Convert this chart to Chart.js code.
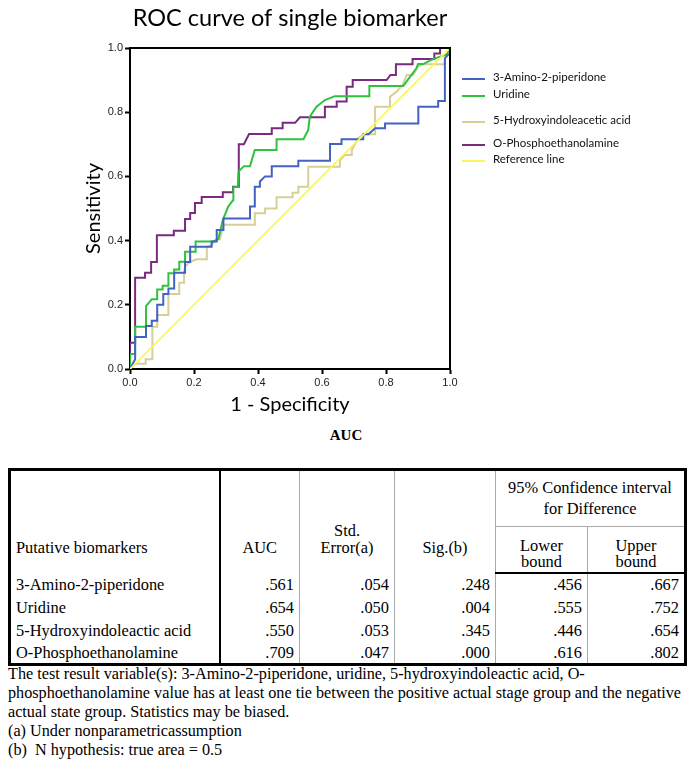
<!DOCTYPE html>
<html>
<head>
<meta charset="utf-8">
<script src="https://cdn.jsdelivr.net/npm/chart.js@4/dist/chart.umd.min.js"></script>
<style>
  html, body { margin:0; padding:0; background:#fff; }
  body { width:692px; height:769px; position:relative; overflow:hidden; }
  #wrap { position:absolute; left:0; top:0; width:692px; height:420px; }
  #aucTitle { position:absolute; top:427px; left:0; width:692px; text-align:center;
    font-family: 'Liberation Serif', 'Times New Roman', serif; font-weight:bold; font-size:15px; color:#000; }
  table { position:absolute; left:8px; top:468px; width:676px; border-collapse:collapse;
    font-family: 'Liberation Serif', 'Times New Roman', serif; font-size:16.4px; color:#000; border:3px solid #000; table-layout:fixed; }
  td, th { font-family: 'Liberation Serif', 'Times New Roman', serif; font-size:16.4px; font-weight:normal; padding:0 5px; line-height:17px; }
  .hdr td { vertical-align:bottom; }
  .c1 { text-align:left; border-right:2px solid #000; }
  .g { border-left:1px solid #aaa; }
  .num { text-align:right; }
  .ctr { text-align:center; }
  tr.hb td { border-bottom:2px solid #000; }
  #notes { position:absolute; left:8px; top:665px; width:684px;
    font-family: 'Liberation Serif', 'Times New Roman', serif; font-size:16.2px; line-height:19px; color:#000; white-space:nowrap; }
</style>
</head>
<body>
<div id="wrap"><canvas id="c" width="692" height="420"></canvas></div>

<div id="aucTitle">AUC</div>
<table>
  <colgroup>
    <col style="width:210px"><col style="width:80px"><col style="width:95px">
    <col style="width:101px"><col style="width:92px"><col style="width:98px">
  </colgroup>
  <tr class="hdr" style="height:57px">
    <td class="c1" rowspan="2" style="padding-bottom:17px">Putative biomarkers</td>
    <td class="ctr" rowspan="2" style="padding-bottom:17px">AUC</td>
    <td class="ctr g" rowspan="2" style="padding-bottom:17px">Std.<br>Error(a)</td>
    <td class="ctr g" rowspan="2" style="padding-bottom:17px">Sig.(b)</td>
    <td class="ctr g" colspan="2" style="border-bottom:1px solid #aaa; padding-bottom:7px; line-height:21px">95% Confidence interval<br>for Difference</td>
  </tr>
  <tr class="hdr hb" style="height:46px">
    <td class="ctr g" style="padding-bottom:2px; line-height:16px">Lower<br>bound</td>
    <td class="ctr g" style="padding-bottom:2px; line-height:16px">Upper<br>bound</td>
  </tr>
  <tbody id="tb"></tbody>
</table>

<div id="notes">The test result variable(s): 3-Amino-2-piperidone, uridine, 5-hydroxyindoleactic acid, O-<br>phosphoethanolamine value has at least one tie between the positive actual stage group and the negative<br>actual state group. Statistics may be biased.<br>(a) Under nonparametricassumption<br>(b)&nbsp; N hypothesis: true area = 0.5</div>

<script>
// ---------------- DATA ----------------
const seriesNames = ['3-Amino-2-piperidone', 'Uridine', '5-Hydroxyindoleacetic acid', 'O-Phosphoethanolamine', 'Reference line'];

const aminoFpr = [0,0.016,0.016,0.05,0.05,0.068,0.068,0.085,0.085,0.104,0.104,0.12,0.12,0.138,0.138,0.172,0.172,0.188,0.188,0.255,0.255,0.271,0.271,0.292,0.292,0.375,0.375,0.39,0.39,0.406,0.406,0.422,0.443,0.443,0.526,0.526,0.625,0.625,0.661,0.661,0.729,0.729,0.745,0.766,0.797,0.797,0.901,0.901,0.963,0.963,0.984,0.984,0.995,1,1];
const aminoTpr = [0,0.03,0.1,0.1,0.134,0.134,0.15,0.15,0.2,0.2,0.234,0.234,0.251,0.251,0.3,0.3,0.333,0.333,0.381,0.381,0.397,0.397,0.433,0.433,0.469,0.469,0.506,0.506,0.568,0.568,0.584,0.6,0.6,0.632,0.632,0.649,0.649,0.701,0.701,0.716,0.716,0.731,0.731,0.75,0.75,0.765,0.765,0.817,0.817,0.835,0.835,0.968,0.98,0.98,1];

const uridineFpr = [0,0,0.016,0.016,0.05,0.05,0.068,0.085,0.085,0.102,0.102,0.12,0.12,0.138,0.138,0.154,0.154,0.172,0.172,0.205,0.205,0.257,0.276,0.29,0.307,0.322,0.323,0.337,0.339,0.356,0.375,0.39,0.458,0.458,0.542,0.557,0.562,0.583,0.609,0.64,0.748,0.748,0.854,0.895,0.9,0.917,0.935,0.96,0.99,1];
const uridineTpr = [0,0.047,0.047,0.132,0.132,0.196,0.217,0.217,0.248,0.248,0.259,0.259,0.298,0.298,0.31,0.31,0.334,0.334,0.365,0.365,0.397,0.397,0.404,0.464,0.506,0.526,0.566,0.568,0.615,0.632,0.632,0.682,0.682,0.716,0.716,0.745,0.786,0.817,0.838,0.85,0.85,0.882,0.882,0.937,0.95,0.95,0.96,0.97,0.98,1];

const hiaaFpr = [0,0.016,0.049,0.049,0.07,0.07,0.085,0.085,0.12,0.12,0.154,0.154,0.169,0.169,0.172,0.188,0.208,0.24,0.24,0.255,0.27,0.281,0.292,0.39,0.39,0.422,0.422,0.458,0.458,0.508,0.508,0.526,0.526,0.557,0.557,0.656,0.656,0.672,0.693,0.693,0.713,0.73,0.766,0.766,0.8125,0.8125,0.833,0.852,0.865,0.885,0.9,0.917,0.984,0.984,1];
const hiaaTpr = [0,0.016,0.016,0.03,0.03,0.132,0.132,0.168,0.168,0.234,0.234,0.269,0.269,0.303,0.319,0.334,0.342,0.342,0.381,0.386,0.404,0.404,0.449,0.449,0.485,0.485,0.5,0.5,0.535,0.535,0.549,0.549,0.568,0.568,0.63,0.63,0.651,0.667,0.667,0.682,0.719,0.731,0.731,0.817,0.817,0.848,0.864,0.885,0.916,0.916,0.942,0.949,0.949,0.968,1];

const opeaFpr = [0,0,0.016,0.016,0.047,0.047,0.066,0.066,0.084,0.084,0.137,0.137,0.172,0.172,0.188,0.188,0.203,0.203,0.224,0.224,0.29,0.29,0.322,0.322,0.34,0.34,0.356,0.372,0.443,0.443,0.477,0.477,0.516,0.531,0.609,0.609,0.646,0.646,0.677,0.677,0.696,0.696,0.802,0.814,0.831,0.831,0.883,0.883,0.951,0.951,0.969,0.969,1];
const opeaTpr = [0,0.082,0.082,0.284,0.284,0.30,0.30,0.333,0.333,0.417,0.417,0.431,0.431,0.467,0.467,0.486,0.486,0.517,0.517,0.536,0.536,0.551,0.551,0.568,0.568,0.70,0.70,0.732,0.732,0.75,0.75,0.767,0.767,0.784,0.784,0.817,0.817,0.833,0.833,0.879,0.879,0.90,0.90,0.916,0.916,0.949,0.949,0.966,0.966,0.983,0.983,1.0,1];

const refFpr = [0, 1];
const refTpr = [0, 1];

const axisTicks = [0, 0.2, 0.4, 0.6, 0.8, 1.0];

// AUC table
const tableNames = ['3-Amino-2-piperidone', 'Uridine', '5-Hydroxyindoleactic acid', 'O-Phosphoethanolamine'];
const aucVals   = ['.561', '.654', '.550', '.709'];
const seVals    = ['.054', '.050', '.053', '.047'];
const sigVals   = ['.248', '.004', '.345', '.000'];
const lowerVals = ['.456', '.555', '.446', '.616'];
const upperVals = ['.667', '.752', '.654', '.802'];

// ---------------- TABLE ----------------
const tb = document.getElementById('tb');
tableNames.forEach((n, i) => {
  const tr = document.createElement('tr');
  tr.style.height = '23px';
  tr.innerHTML = `<td class="c1">${n}</td>` +
    `<td class="num">${aucVals[i]}</td><td class="num g">${seVals[i]}</td>` +
    `<td class="num g">${sigVals[i]}</td><td class="num g">${lowerVals[i]}</td><td class="num g">${upperVals[i]}</td>`;
  tb.appendChild(tr);
});

// ---------------- CHART ----------------
const colors = ['#4262c4', '#2fc23f', '#d6cf96', '#7a2a80', '#f8f65a'];
const toPts = (xs, ys) => xs.map((x, i) => ({ x: x, y: ys[i] }));
const seriesX = [aminoFpr, uridineFpr, hiaaFpr, opeaFpr, refFpr];
const seriesY = [aminoTpr, uridineTpr, hiaaTpr, opeaTpr, refTpr];

const datasets = seriesNames.map((name, i) => ({
  label: name,
  data: toPts(seriesX[i], seriesY[i]),
  borderColor: colors[i],
  backgroundColor: colors[i],
  borderWidth: i === 4 ? 1.6 : 2,
  pointRadius: 0,
  tension: 0,
  fill: false,
  order: i === 4 ? -1 : i
}));

const legendYs = [77, 94, 120, 143, 159];

const framePlugin = {
  id: 'frame',
  afterDatasetsDraw(chart) {
    const { ctx, chartArea: a } = chart;
    ctx.save();
    ctx.strokeStyle = '#000';
    ctx.lineWidth = 2;
    ctx.beginPath();
    ctx.moveTo(a.left, a.top);
    ctx.lineTo(a.right, a.top);
    ctx.lineTo(a.right, a.bottom);
    ctx.stroke();
    ctx.restore();
  },
  afterDraw(chart) {
    const { ctx } = chart;
    ctx.save();
    ctx.font = "11.5px Lato, 'Open Sans', sans-serif";
    ctx.textBaseline = 'middle';
    ctx.fillStyle = '#111';
    chart.data.datasets.forEach((ds, i) => {
      const y = legendYs[i];
      ctx.strokeStyle = ds.borderColor;
      ctx.lineWidth = 2;
      ctx.beginPath();
      ctx.moveTo(462, y + 2);
      ctx.lineTo(485, y + 2);
      ctx.stroke();
      ctx.fillText(ds.label, 493, y);
    });
    ctx.restore();
  }
};

new Chart(document.getElementById('c'), {
  type: 'line',
  data: { datasets },
  options: {
    responsive: false,
    animation: false,
    devicePixelRatio: 1,
    layout: { padding: { left: 0, top: 0, right: 242, bottom: 0 } },
    plugins: {
      legend: { display: false },
      tooltip: { enabled: false },
      title: {
        display: true,
        text: 'ROC curve of single biomarker',
        fullSize: false,
        color: '#000',
        font: { family: "Lato, 'Open Sans', sans-serif", size: 23.5, weight: 'normal' },
        padding: { top: 4, bottom: 15.8 }
      }
    },
    scales: {
      x: {
        type: 'linear',
        min: 0, max: 1,
        afterFit(s) { s.height = 51; },
        afterBuildTicks(s) { s.ticks = axisTicks.map(v => ({ value: v })); },
        ticks: {
          callback: v => v.toFixed(1),
          color: '#222',
          font: { family: "'Liberation Sans', Arial, sans-serif", size: 11 },
          padding: 2,
          maxRotation: 0
        },
        grid: { drawOnChartArea: false, drawTicks: true, tickLength: 5, color: '#000', tickWidth: 2 },
        border: { display: true, color: '#000', width: 2 },
        title: {
          display: true,
          text: '1 - Specificity',
          color: '#000',
          font: { family: "Lato, 'Open Sans', sans-serif", size: 20 },
          padding: { top: 0, bottom: 3 }
        }
      },
      y: {
        type: 'linear',
        min: 0, max: 1,
        afterFit(s) { s.width = 130; },
        afterBuildTicks(s) { s.ticks = axisTicks.map(v => ({ value: v })); },
        ticks: {
          callback: v => v.toFixed(1),
          color: '#222',
          font: { family: "'Liberation Sans', Arial, sans-serif", size: 11 },
          padding: 2
        },
        grid: { drawOnChartArea: false, drawTicks: true, tickLength: 5, color: '#000', tickWidth: 2 },
        border: { display: true, color: '#000', width: 2 },
        title: {
          display: true,
          text: 'Sensitivity',
          color: '#000',
          font: { family: "Lato, 'Open Sans', sans-serif", size: 20 },
          padding: { top: 82, bottom: 0 }
        }
      }
    }
  },
  plugins: [framePlugin]
});
</script>
</body>
</html>
